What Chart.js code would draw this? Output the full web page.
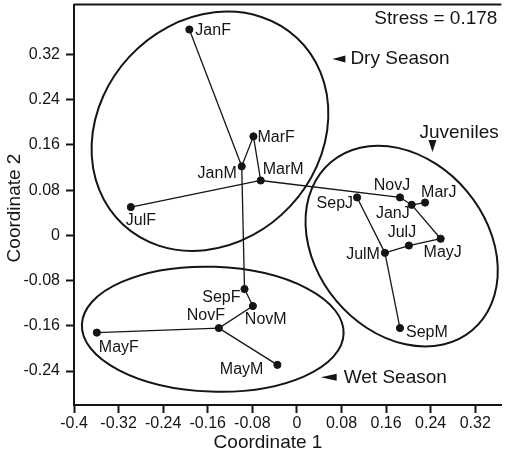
<html>
  <head>
    <meta charset="utf-8" />
    <title>MDS Coordinate plot</title>
    <style>
      body { margin: 0; background: #fff; }
      #wrap { width: 506px; height: 454px; }
    </style>
  </head>
  <body>
    <div id="wrap"><canvas id="mds"></canvas></div>

    <script src="https://cdn.jsdelivr.net/npm/chart.js"></script>
    <script>
      // sample names and their two MDS coordinates
      var names = ["JanF", "MarF", "JanM", "MarM", "JulF", "NovJ", "MarJ", "JanJ", "SepJ",
                   "JulJ", "MayJ", "JulM", "SepM", "SepF", "NovM", "NovF", "MayF", "MayM"];
      var coord1 = [-0.193, -0.078, -0.099, -0.065, -0.298, 0.185, 0.230, 0.206, 0.108,
                    0.201, 0.258, 0.158, 0.185, -0.094, -0.079, -0.140, -0.359, -0.035];
      var coord2 = [0.364, 0.175, 0.122, 0.097, 0.050, 0.067, 0.058, 0.054, 0.067,
                    -0.018, -0.006, -0.031, -0.164, -0.095, -0.125, -0.164, -0.172, -0.229];

      // minimum spanning tree links
      var links = [["JanF", "JanM"], ["JanM", "MarF"], ["MarF", "MarM"], ["JulF", "MarM"],
                   ["MarM", "NovJ"], ["JanM", "SepF"], ["NovJ", "JanJ"], ["JanJ", "MarJ"],
                   ["JanJ", "MayJ"], ["MayJ", "JulJ"], ["JulJ", "JulM"], ["SepJ", "JulM"],
                   ["JulM", "SepM"], ["SepF", "NovM"], ["NovM", "NovF"], ["NovF", "MayF"],
                   ["NovF", "MayM"]];

      var xTicks = [-0.4, -0.32, -0.24, -0.16, -0.08, 0, 0.08, 0.16, 0.24, 0.32];
      var yTicks = [-0.24, -0.16, -0.08, 0, 0.08, 0.16, 0.24, 0.32];

      // group outlines: centre (coord1, coord2), semi axes, rotation in degrees
      var groupCx = [-0.156, -0.151, 0.188];
      var groupCy = [0.184, -0.166, -0.019];
      var groupA = [0.229, 0.235, 0.197];
      var groupB = [0.197, 0.112, 0.153];
      var groupRot = [-47, 2, 50];

      // label placement next to each point: align, dx, dy (pixels)
      var labelPos = [["left", 6, 1], ["left", 4, 1], ["right", -5, 7], ["left", 2, -11],
                      ["left", -5, 14], ["center", -8, -12], ["left", -4, -10], ["right", -2, 9],
                      ["right", -4, 6], ["center", -7, -12.5], ["center", 2, 14], ["right", -5, 1.5],
                      ["left", 6, 4.5], ["right", -4, 9], ["left", -8, 14], ["center", -13, -12],
                      ["left", 2, 15], ["right", -14, 4.5]];

      var ink = "#151515";
      var fam = "'Liberation Sans', Arial, sans-serif";

      var pts = names.map(function (n, i) { return { x: coord1[i], y: coord2[i] }; });
      // one short line dataset per link
      var linkSets = links.map(function (l) {
        return {
          data: [pts[names.indexOf(l[0])], pts[names.indexOf(l[1])]],
          showLine: true,
          borderColor: ink,
          borderWidth: 1.3,
          pointRadius: 0,
          pointHoverRadius: 0,
        };
      });

      var extras = {
        id: "extras",
        afterDatasetsDraw: function (chart) {
          var c = chart.ctx, xs = chart.scales.x, ys = chart.scales.y, a = chart.chartArea;
          var unit = xs.getPixelForValue(1) - xs.getPixelForValue(0);
          c.save();
          c.strokeStyle = ink;
          c.fillStyle = ink;

          // top frame line
          c.lineWidth = 2;
          c.beginPath();
          c.moveTo(a.left, a.top);
          c.lineTo(a.right, a.top);
          c.stroke();

          // group ellipses
          for (var g = 0; g < groupCx.length; g++) {
            c.beginPath();
            c.ellipse(xs.getPixelForValue(groupCx[g]), ys.getPixelForValue(groupCy[g]),
              groupA[g] * unit, groupB[g] * unit, groupRot[g] * Math.PI / 180, 0, 2 * Math.PI);
            c.stroke();
          }

          // point labels
          c.font = "16px " + fam;
          c.textBaseline = "middle";
          names.forEach(function (n, i) {
            var p = labelPos[i];
            c.textAlign = p[0];
            c.fillText(n, xs.getPixelForValue(coord1[i]) + p[1], ys.getPixelForValue(coord2[i]) + p[2]);
          });

          // annotations
          c.font = "19px " + fam;
          c.textAlign = "right";
          c.fillText("Stress = 0.178", a.right - 4, a.top + 14);
          c.textAlign = "left";
          var dx = xs.getPixelForValue(0.096), dy = ys.getPixelForValue(0.312);
          c.fillText("Dry Season", dx, dy);
          c.beginPath();
          c.moveTo(dx - 18, dy);
          c.lineTo(dx - 5, dy - 3.5);
          c.lineTo(dx - 5, dy + 3.5);
          c.fill();
          var wx = xs.getPixelForValue(0.084), wy = ys.getPixelForValue(-0.252);
          c.fillText("Wet Season", wx, wy);
          c.beginPath();
          c.moveTo(wx - 23, wy - 0.5);
          c.lineTo(wx - 7, wy - 4);
          c.lineTo(wx - 7, wy + 3);
          c.fill();
          var jx = xs.getPixelForValue(0.220), jy = ys.getPixelForValue(0.181);
          c.fillText("Juveniles", jx, jy);
          c.beginPath();
          c.moveTo(jx + 9, jy + 7);
          c.lineTo(jx + 17, jy + 7);
          c.lineTo(jx + 13, jy + 19);
          c.fill();

          // axis titles
          c.textAlign = "center";
          c.fillText("Coordinate 1", a.left + 194, 443);
          c.translate(15, 208);
          c.rotate(-Math.PI / 2);
          c.fillText("Coordinate 2", 0, 0);
          c.restore();
        },
      };

      function axis(ticks, fit) {
        return {
          type: "linear",
          afterBuildTicks: function (s) {
            s.ticks = ticks.map(function (v) { return { value: v }; });
          },
          afterFit: function (s) {
            fit(s);
            // no extra room for the end labels
            s.paddingTop = 0;
            s.paddingBottom = 0;
            s.paddingLeft = 0;
            s.paddingRight = 0;
          },
          border: { display: true, color: ink, width: 2 },
          grid: { display: true, drawOnChartArea: false, drawTicks: true, tickLength: 8, tickWidth: 2, tickColor: ink },
          ticks: {
            color: ink,
            font: { family: fam, size: 16 },
            callback: function (v) { return String(+v.toFixed(2)); },
          },
        };
      }

      var xAxis = axis(xTicks, function (s) { s.height = 49; });
      xAxis.min = -0.4;
      xAxis.max = 0.367;
      xAxis.ticks.padding = 1;
      xAxis.ticks.maxRotation = 0;
      var yAxis = axis(yTicks, function (s) { s.width = 74; });
      yAxis.min = -0.3;
      yAxis.max = 0.408;
      yAxis.ticks.padding = 6;

      new Chart(document.getElementById("mds"), {
        type: "scatter",
        data: {
          datasets: linkSets.concat([
            { data: pts, backgroundColor: ink, borderColor: ink, pointRadius: 3.6, pointHoverRadius: 3.6 },
          ]),
        },
        options: {
          responsive: true,
          maintainAspectRatio: false,
          animation: false,
          layout: { padding: { top: 4, right: 0, left: 0, bottom: 0 } },
          plugins: { legend: { display: false }, tooltip: { enabled: false } },
          scales: { x: xAxis, y: yAxis },
        },
        plugins: [extras],
      });
    </script>
  </body>
</html>
